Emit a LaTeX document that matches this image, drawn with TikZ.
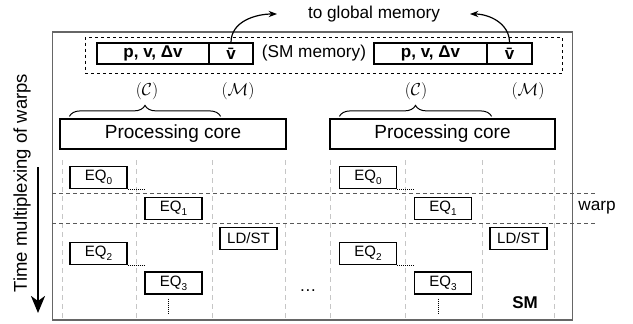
\documentclass[tikz,border=0pt]{standalone}
\usepackage{fontspec}
\setmainfont{Liberation Sans}
\usetikzlibrary{positioning, arrows.meta, decorations.pathreplacing}

\newcommand{\eqsub}[1]{EQ\raisebox{-0.55ex}{\fontsize{10}{10}\selectfont #1}}

\begin{document}
\begin{tikzpicture}[
    x=1pt, y=-1pt,
    >=Stealth,
    membox/.style={
        rectangle,
        draw=black,
        line width=1.2pt,
        minimum height=21pt,
        inner sep=0pt,
        font=\fontsize{17}{20}\selectfont\bfseries
    },
    corebox/.style={
        rectangle,
        draw=black,
        line width=1.2pt,
        minimum width=226pt,
        minimum height=30pt,
        font=\fontsize{19}{22}\selectfont
    },
    eqbox/.style={
        rectangle,
        draw=black,
        line width=1.2pt,
        minimum width=57pt,
        minimum height=22pt,
        inner sep=0pt,
        font=\fontsize{15}{18}\selectfont
    },
    txt/.style={font=\fontsize{17.2}{20}\selectfont, inner sep=0pt},
    mathtxt/.style={font=\fontsize{18}{20}\selectfont, inner sep=0pt},
    lane/.style={gray!45, line width=1pt, dash pattern=on 5pt off 4pt},
    warpline/.style={black!65, line width=1pt, dash pattern=on 4pt off 3pt},
    idle/.style={line width=0.9pt, dash pattern=on 1pt off 1pt},
    arrow/.style={->, line width=1.2pt},
    timearrow/.style={-{Stealth[length=17pt, width=14pt, inset=5pt]}, line width=2.4pt},
    brace/.style={decorate, decoration={brace, amplitude=11pt}, line width=1pt}
]
\useasboundingbox (0,0) rectangle (633,324);

% streaming multiprocessor and its shared memory
\node[draw=black!60, line width=1.5pt, minimum width=520pt, minimum height=288pt, inner sep=0pt] (sm) at (312.5,176) {};
\node[draw, dashed, line width=0.9pt, minimum width=477pt, minimum height=36.5pt, inner sep=0pt] (smmem) at (323.5,55.25) {};

\node[membox, minimum width=112pt] (pva) at (153,53.5) {p, v, Δv};
\node[membox, minimum width=44pt] (vbara) at (231,53.5) {\=v};
\node[txt] (smtext) at (314,53.5) {(SM memory)};
\node[membox, minimum width=113pt] (pvb) at (430.5,53.5) {p, v, Δv};
\node[membox, minimum width=45pt] (vbarb) at (509.5,53.5) {\=v};

\node[txt] (glob) at (374,14) {to global memory};
\coordinate (globl) at (277,14);
\coordinate (globr) at (470,14);
\draw[arrow] (vbara.north) to[out=90, in=180] (globl);
\draw[arrow] (vbarb.north) to[out=90, in=0] (globr);

\node[mathtxt] (ca) at (147,91) {$(\mathcal{C})$};
\node[mathtxt] (ma) at (238,91) {$(\mathcal{M})$};
\node[mathtxt] (cb) at (416,91) {$(\mathcal{C})$};
\node[mathtxt] (mb) at (528,91) {$(\mathcal{M})$};

\node[corebox] (pca) at (173,134) {Processing core};
\node[corebox, minimum width=225pt] (pcb) at (442.5,134) {Processing core};
\draw[brace] ([xshift=10pt, yshift=2pt]pca.north west) -- ([xshift=-66pt, yshift=2pt]pca.north east);
\draw[brace] ([xshift=10pt, yshift=2pt]pcb.north west) -- ([xshift=-64pt, yshift=2pt]pcb.north east);

% lanes of the cores
\draw[lane] (62,160) -- (62,319);
\draw[lane] (136,160) -- (136,319);
\draw[lane] (212,160) -- (212,319);
\draw[lane] (285,160) -- (285,319);
\draw[lane] (330,160) -- (330,319);
\draw[lane] (405,160) -- (405,319);
\draw[lane] (482,160) -- (482,319);
\draw[lane] (554,160) -- (554,319);

\draw[warpline] (52,193) -- (596,193);
\draw[warpline] (52,223) -- (596,223);
\node[txt] (warp) at (597,208) {warp};

% instructions, left core
\node[eqbox] (eqa) at (98.5,177.5) {\eqsub{0}};
\node[eqbox] (eqb) at (173.5,208.5) {\eqsub{1}};
\node[eqbox] (ldsta) at (248.5,238.5) {LD/ST};
\node[eqbox] (eqc) at (98.5,253.5) {\eqsub{2}};
\node[eqbox] (eqd) at (173.5,283) {\eqsub{3}};
\draw[idle] (eqa.south east) -- (eqa.south east -| eqb.west);
\draw[idle] (eqc.south east) -- (eqc.south east -| eqd.west);
\draw[idle] ([xshift=-5pt, yshift=-4pt]eqd.south) -- ++(0,15);

% instructions, right core
\node[eqbox] (eqe) at (368,177.5) {\eqsub{0}};
\node[eqbox] (eqf) at (443,208.5) {\eqsub{1}};
\node[eqbox] (ldstb) at (518.5,238.5) {LD/ST};
\node[eqbox] (eqg) at (368,253.5) {\eqsub{2}};
\node[eqbox] (eqh) at (443,283) {\eqsub{3}};
\draw[idle] (eqe.south east) -- (eqe.south east -| eqf.west);
\draw[idle] (eqg.south east) -- (eqg.south east -| eqh.west);
\draw[idle] ([xshift=-5pt, yshift=-4pt]eqh.south) -- ++(0,15);

\node[txt] (more) at (308,291) {\dots};
\node[txt, font=\fontsize{17}{20}\selectfont\bfseries] (smlabel) at (525,303) {SM};

% time axis
\node[txt, font=\fontsize{18.5}{20}\selectfont, rotate=90] (timelabel) at (22,183) {Time multiplexing of warps};
\coordinate (ttop) at (38,167);
\coordinate (tbot) at (38,313);
\draw[timearrow] (ttop) -- (tbot);

\end{tikzpicture}
\end{document}
